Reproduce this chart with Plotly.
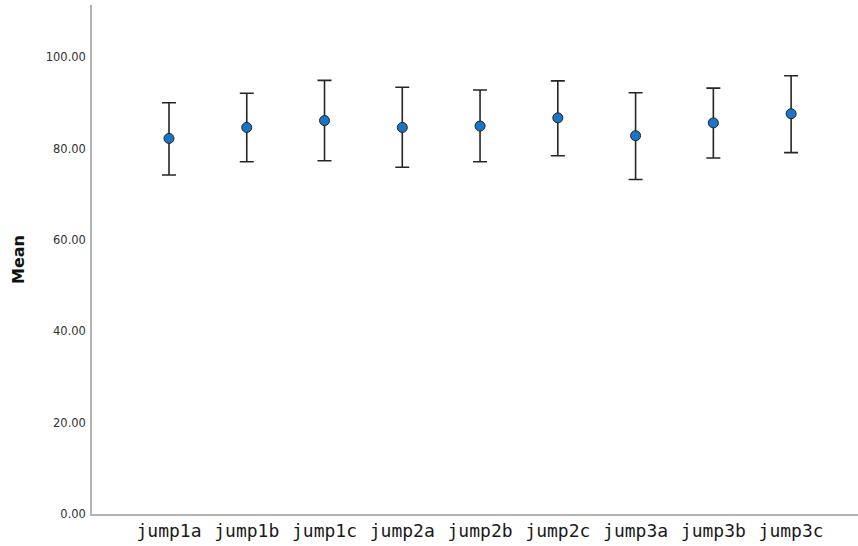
import plotly.graph_objects as go

categories = ["jump1a", "jump1b", "jump1c", "jump2a", "jump2b", "jump2c", "jump3a", "jump3b", "jump3c"]
means = [82.2, 84.6, 86.1, 84.6, 84.9, 86.7, 82.8, 85.6, 87.6]
upper = [90.0, 92.1, 94.9, 93.4, 92.8, 94.8, 92.2, 93.2, 95.9]
lower = [74.2, 77.1, 77.3, 75.9, 77.1, 78.4, 73.2, 77.9, 79.1]
y_ticks = [0, 20, 40, 60, 80, 100]

err_plus = [u - m for u, m in zip(upper, means)]
err_minus = [m - l for m, l in zip(means, lower)]

fig = go.Figure(
    go.Scatter(
        x=categories,
        y=means,
        mode="markers",
        marker=dict(size=10, color="#1a74c8", line=dict(color="#222222", width=1)),
        error_y=dict(
            type="data",
            symmetric=False,
            array=err_plus,
            arrayminus=err_minus,
            color="#262626",
            thickness=1.6,
            width=7,
        ),
        showlegend=False,
    )
)

fig.update_layout(
    width=858,
    height=546,
    margin=dict(l=92, r=0, t=5, b=32),
    paper_bgcolor="white",
    plot_bgcolor="white",
    font=dict(family="DejaVu Sans", color="#333333"),
    xaxis=dict(
        type="category",
        range=[-0.99, 8.86],
        showline=True,
        linecolor="#b3b3b3",
        linewidth=1.5,
        showgrid=False,
        zeroline=False,
        ticks="",
        tickfont=dict(family="DejaVu Sans Mono", size=18, color="#1a1a1a"),
    ),
    yaxis=dict(
        range=[0, 111.4],
        tickvals=y_ticks,
        tickformat=".2f",
        showline=True,
        linecolor="#b3b3b3",
        linewidth=1.5,
        showgrid=False,
        zeroline=False,
        ticks="outside",
        ticklen=2,
        tickcolor="rgba(0,0,0,0)",
        tickfont=dict(family="DejaVu Sans", size=11.5, color="#333333"),
        title=dict(
            text="<b>Mean</b>",
            font=dict(family="DejaVu Sans", size=16, color="#111111"),
            standoff=17,
        ),
    ),
)

fig.write_html(
    "out.html",
    config={"displayModeBar": False},
    post_script="document.body.style.margin='0';",
)
